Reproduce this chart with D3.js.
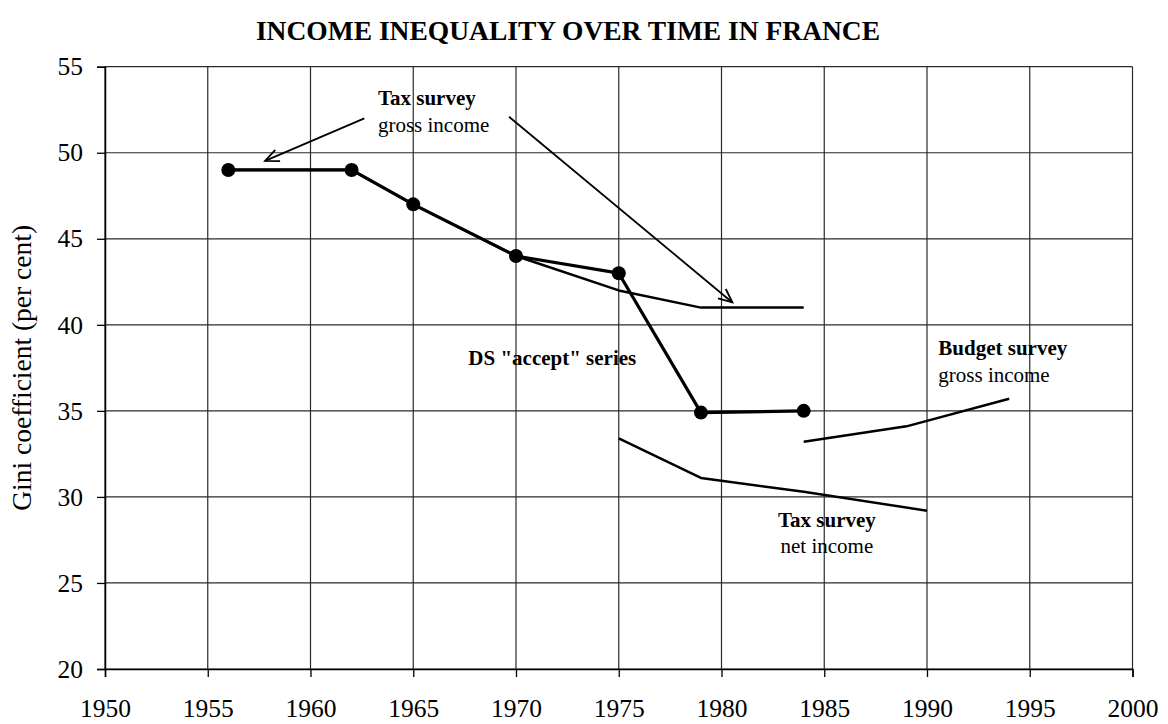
<!DOCTYPE html>
<html>
<head>
<meta charset="utf-8">
<script src="https://cdn.jsdelivr.net/npm/d3@7"></script>
<style>
  html, body { margin: 0; padding: 0; background: #fff; }
  svg { display: block; }
  text { font-family: "Liberation Serif", "Times New Roman", serif; fill: #000; }
</style>
</head>
<body>
<svg id="chart" width="1168" height="724"></svg>
<script>
// ---- Data ----
const title = "INCOME INEQUALITY OVER TIME IN FRANCE";
const yAxisTitle = "Gini coefficient (per cent)";
const xTicks = [1950, 1955, 1960, 1965, 1970, 1975, 1980, 1985, 1990, 1995, 2000];
const yTicks = [20, 25, 30, 35, 40, 45, 50, 55];

const dsYears  = [1956, 1962, 1965, 1970, 1975, 1979, 1984];
const dsValues = [49, 49, 47, 44, 43, 34.9, 35];

const taxGrossYears  = [1956, 1962, 1965, 1970, 1975, 1979, 1984];
const taxGrossValues = [49, 49, 47, 44, 42, 41, 41];

const taxNetYears  = [1975, 1979, 1984, 1990];
const taxNetValues = [33.4, 31.1, 30.3, 29.2];

const budgetYears  = [1984, 1989, 1994];
const budgetValues = [33.2, 34.1, 35.7];

// annotations: [year, value] anchors
const annotations = [
  { lines: ["Tax survey", "gross income"], x: 1963.28, y: [52.77, 51.2], anchor: "start" },
  { lines: ["DS \"accept\" series"], x: 1967.68, y: [37.66], anchor: "start" },
  { lines: ["Budget survey", "gross income"], x: 1990.55, y: [38.24, 36.69], anchor: "start" },
  { lines: ["Tax survey", "net income"], x: 1985.13, y: [28.26, 26.73], anchor: "middle" }
];
const arrows = [
  { from: [1962.62, 52.0], to: [1957.79, 49.53] },
  { from: [1969.66, 52.09], to: [1980.53, 41.3] }
];

// ---- Layout ----
const svg = d3.select("#chart");
const x = d3.scaleLinear().domain([1950, 2000]).range([105, 1132.5]);
const y = d3.scaleLinear().domain([20, 55]).range([669, 66.7]);

// gridlines
const grid = svg.append("g");
grid.selectAll(".vg").data(xTicks).join("line")
  .attr("x1", d => x(d)).attr("x2", d => x(d))
  .attr("y1", y(55)).attr("y2", y(20))
  .attr("stroke", "#2a2a2a").attr("stroke-width", 1.2);
grid.selectAll(".hg").data(yTicks).join("line")
  .attr("x1", x(1950)).attr("x2", x(2000))
  .attr("y1", d => y(d)).attr("y2", d => y(d))
  .attr("stroke", "#2a2a2a").attr("stroke-width", 1.2);

// axes
const xAxis = svg.append("g").attr("transform", `translate(0,${y(20)})`)
  .call(d3.axisBottom(x).tickValues(xTicks).tickFormat(d3.format("d")).tickSize(8).tickPadding(22));
const yAxis = svg.append("g").attr("transform", `translate(${x(1950)},0)`)
  .call(d3.axisLeft(y).tickValues(yTicks).tickSize(8).tickPadding(14));
[xAxis, yAxis].forEach(g => {
  g.select(".domain").attr("stroke", "#000").attr("stroke-width", 1.5);
  g.selectAll(".tick line").attr("stroke", "#000").attr("stroke-width", 1.3);
  g.selectAll(".tick text").attr("font-family", "Liberation Serif, serif")
    .attr("font-size", 25.5).attr("fill", "#000");
});

// title
svg.append("text").attr("x", 568).attr("y", 40)
  .attr("text-anchor", "middle").attr("font-weight", "bold").attr("font-size", 27.5)
  .text(title);

// y axis title
svg.append("text")
  .attr("transform", `translate(31,${(y(55) + y(20)) / 2}) rotate(-90)`)
  .attr("text-anchor", "middle").attr("font-size", 27.5)
  .text(yAxisTitle);

// lines
const line = d3.line().x(d => x(d[0])).y(d => y(d[1]));
function drawSeries(years, values, width) {
  svg.append("path").datum(d3.zip(years, values))
    .attr("d", line).attr("fill", "none").attr("stroke", "#000")
    .attr("stroke-width", width).attr("stroke-linejoin", "round");
}
drawSeries(taxGrossYears, taxGrossValues, 2.5);
drawSeries(taxNetYears, taxNetValues, 2.5);
drawSeries(budgetYears, budgetValues, 2.5);
drawSeries(dsYears, dsValues, 3.2);

svg.append("g").selectAll("circle").data(d3.zip(dsYears, dsValues)).join("circle")
  .attr("cx", d => x(d[0])).attr("cy", d => y(d[1])).attr("r", 7).attr("fill", "#000");

// arrows
arrows.forEach(a => {
  const x1 = x(a.from[0]), y1 = y(a.from[1]), x2 = x(a.to[0]), y2 = y(a.to[1]);
  svg.append("line").attr("x1", x1).attr("y1", y1).attr("x2", x2).attr("y2", y2)
    .attr("stroke", "#000").attr("stroke-width", 1.8);
  const ang = Math.atan2(y1 - y2, x1 - x2);
  const L = 15, spread = 0.42;
  const p1 = [x2 + L * Math.cos(ang + spread), y2 + L * Math.sin(ang + spread)];
  const p2 = [x2 + L * Math.cos(ang - spread), y2 + L * Math.sin(ang - spread)];
  svg.append("path").attr("d", `M${p1[0]},${p1[1]}L${x2},${y2}L${p2[0]},${p2[1]}`)
    .attr("fill", "none").attr("stroke", "#000").attr("stroke-width", 1.8);
});

// annotations
annotations.forEach(a => {
  a.lines.forEach((t, i) => {
    svg.append("text").attr("x", x(a.x)).attr("y", y(a.y[i]))
      .attr("text-anchor", a.anchor)
      .attr("font-size", 21)
      .attr("font-weight", i === 0 ? "bold" : "normal")
      .text(t);
  });
});
</script>
</body>
</html>
